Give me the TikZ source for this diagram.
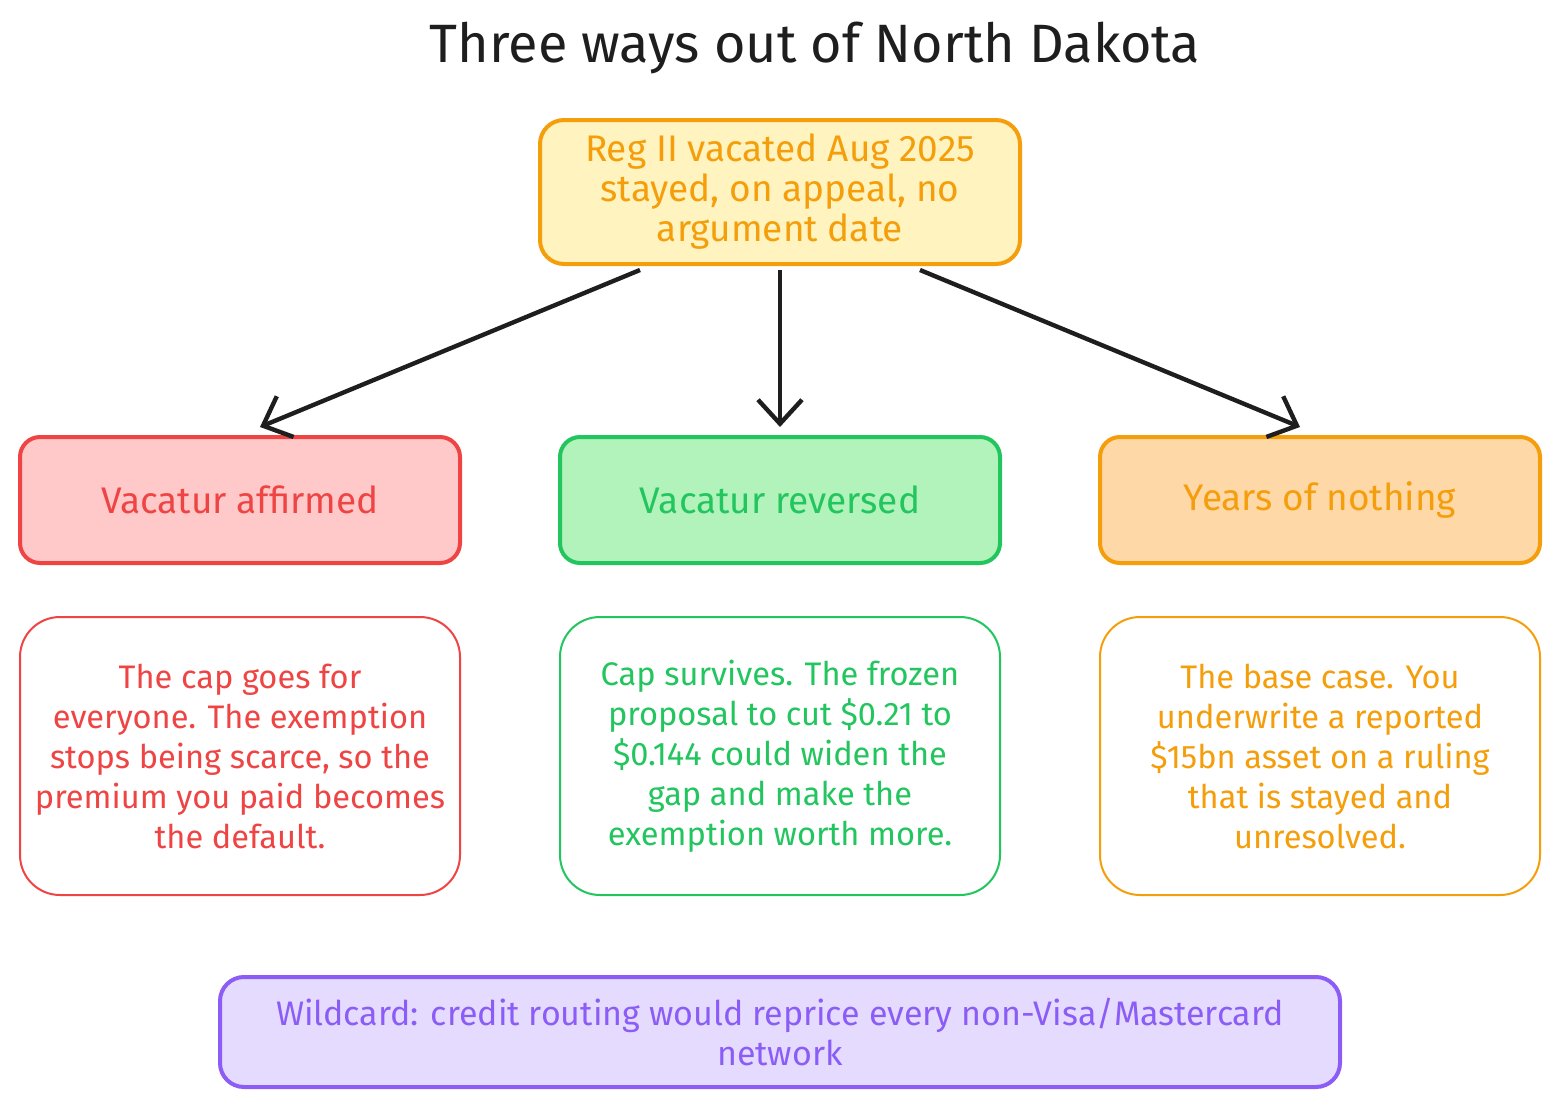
\documentclass[tikz,border=0pt]{standalone}
\usepackage{fontspec}
\setmainfont{Fira Sans}
\usepackage{xcolor}
\usepackage{tikz}
\usetikzlibrary{positioning,calc,arrows.meta}

\definecolor{ink}{HTML}{1E1E1E}
\definecolor{yelline}{HTML}{F59E0B}
\definecolor{yelfill}{HTML}{FFF3BF}
\definecolor{redline}{HTML}{EF4444}
\definecolor{redfill}{HTML}{FFC9C9}
\definecolor{grnline}{HTML}{22C55E}
\definecolor{grnfill}{HTML}{B2F2BB}
\definecolor{orgline}{HTML}{F59E0B}
\definecolor{orgfill}{HTML}{FFD8A8}
\definecolor{purline}{HTML}{8B5CF6}
\definecolor{purfill}{HTML}{E5DBFF}

\begin{document}
\begin{tikzpicture}[x=0.5pt,y=-0.5pt,
    body/.style={font=\fontsize{16.3}{20}\selectfont, align=center, inner sep=0pt},
    big/.style={font=\fontsize{18.5}{20}\selectfont},
    outcome/.style={body, big, draw, line width=2pt, rounded corners=10pt,
        minimum width=220pt, minimum height=63pt},
    detail/.style={body, draw, fill=white, line width=1pt, rounded corners=20pt,
        minimum width=220pt, minimum height=139pt},
    link/.style={draw=ink, line width=2.2pt,
        -{Straight Barb[length=12pt,width=22pt,line width=2.2pt]}}]
    \useasboundingbox (0,0) rectangle (1560,1108);

    % title
    \node[font=\fontsize{27}{30}\selectfont, text=ink] (title) at (815,48) {Three ways out of North Dakota};

    % starting point
    \node[body, big, draw=yelline, fill=yelfill, text=yelline, line width=2pt, rounded corners=12pt,
        minimum width=240pt, minimum height=72pt] (now) at (780,192)
        {Reg II vacated Aug 2025\\ stayed, on appeal, no\\ argument date};

    % the three outcomes
    \node[outcome, draw=redline, fill=redfill, text=redline] (affirmed) at (240,500) {Vacatur affirmed};
    \node[outcome, draw=grnline, fill=grnfill, text=grnline] (reversed) at (780,500) {Vacatur reversed};
    \node[outcome, draw=orgline, fill=orgfill, text=orgline] (nothing) at (1320,500) {Years of nothing};

    \draw[link] ($(now.south)+(-140,4)$) -- ($(affirmed.north)+(20,-8)$);
    \draw[link] ($(now.south)+(0,4)$) -- ($(reversed.north)+(0,-8)$);
    \draw[link] ($(now.south)+(140,4)$) -- ($(nothing.north)+(-20,-8)$);

    % what each one means
    \node[detail, draw=redline, text=redline] (affirmedtxt) at (240,756)
        {The cap goes for\\ everyone. The exemption\\ stops being scarce, so the\\ premium you paid becomes\\ the default.};
    \node[detail, draw=grnline, text=grnline] (reversedtxt) at (780,756)
        {Cap survives. The frozen\\ proposal to cut \$0.21 to\\ \$0.144 could widen the\\ gap and make the\\ exemption worth more.};
    \node[detail, draw=orgline, text=orgline] (nothingtxt) at (1320,756)
        {The base case. You\\ underwrite a reported\\ \$15bn asset on a ruling\\ that is stayed and\\ unresolved.};

    % wildcard
    \node[body, font=\fontsize{17}{20}\selectfont, draw=purline, fill=purfill, text=purline, line width=2pt,
        rounded corners=12pt, minimum width=560pt, minimum height=55pt] (wildcard) at (780,1032)
        {Wildcard: credit routing would reprice every non-Visa/Mastercard\\ network};
\end{tikzpicture}
\end{document}
